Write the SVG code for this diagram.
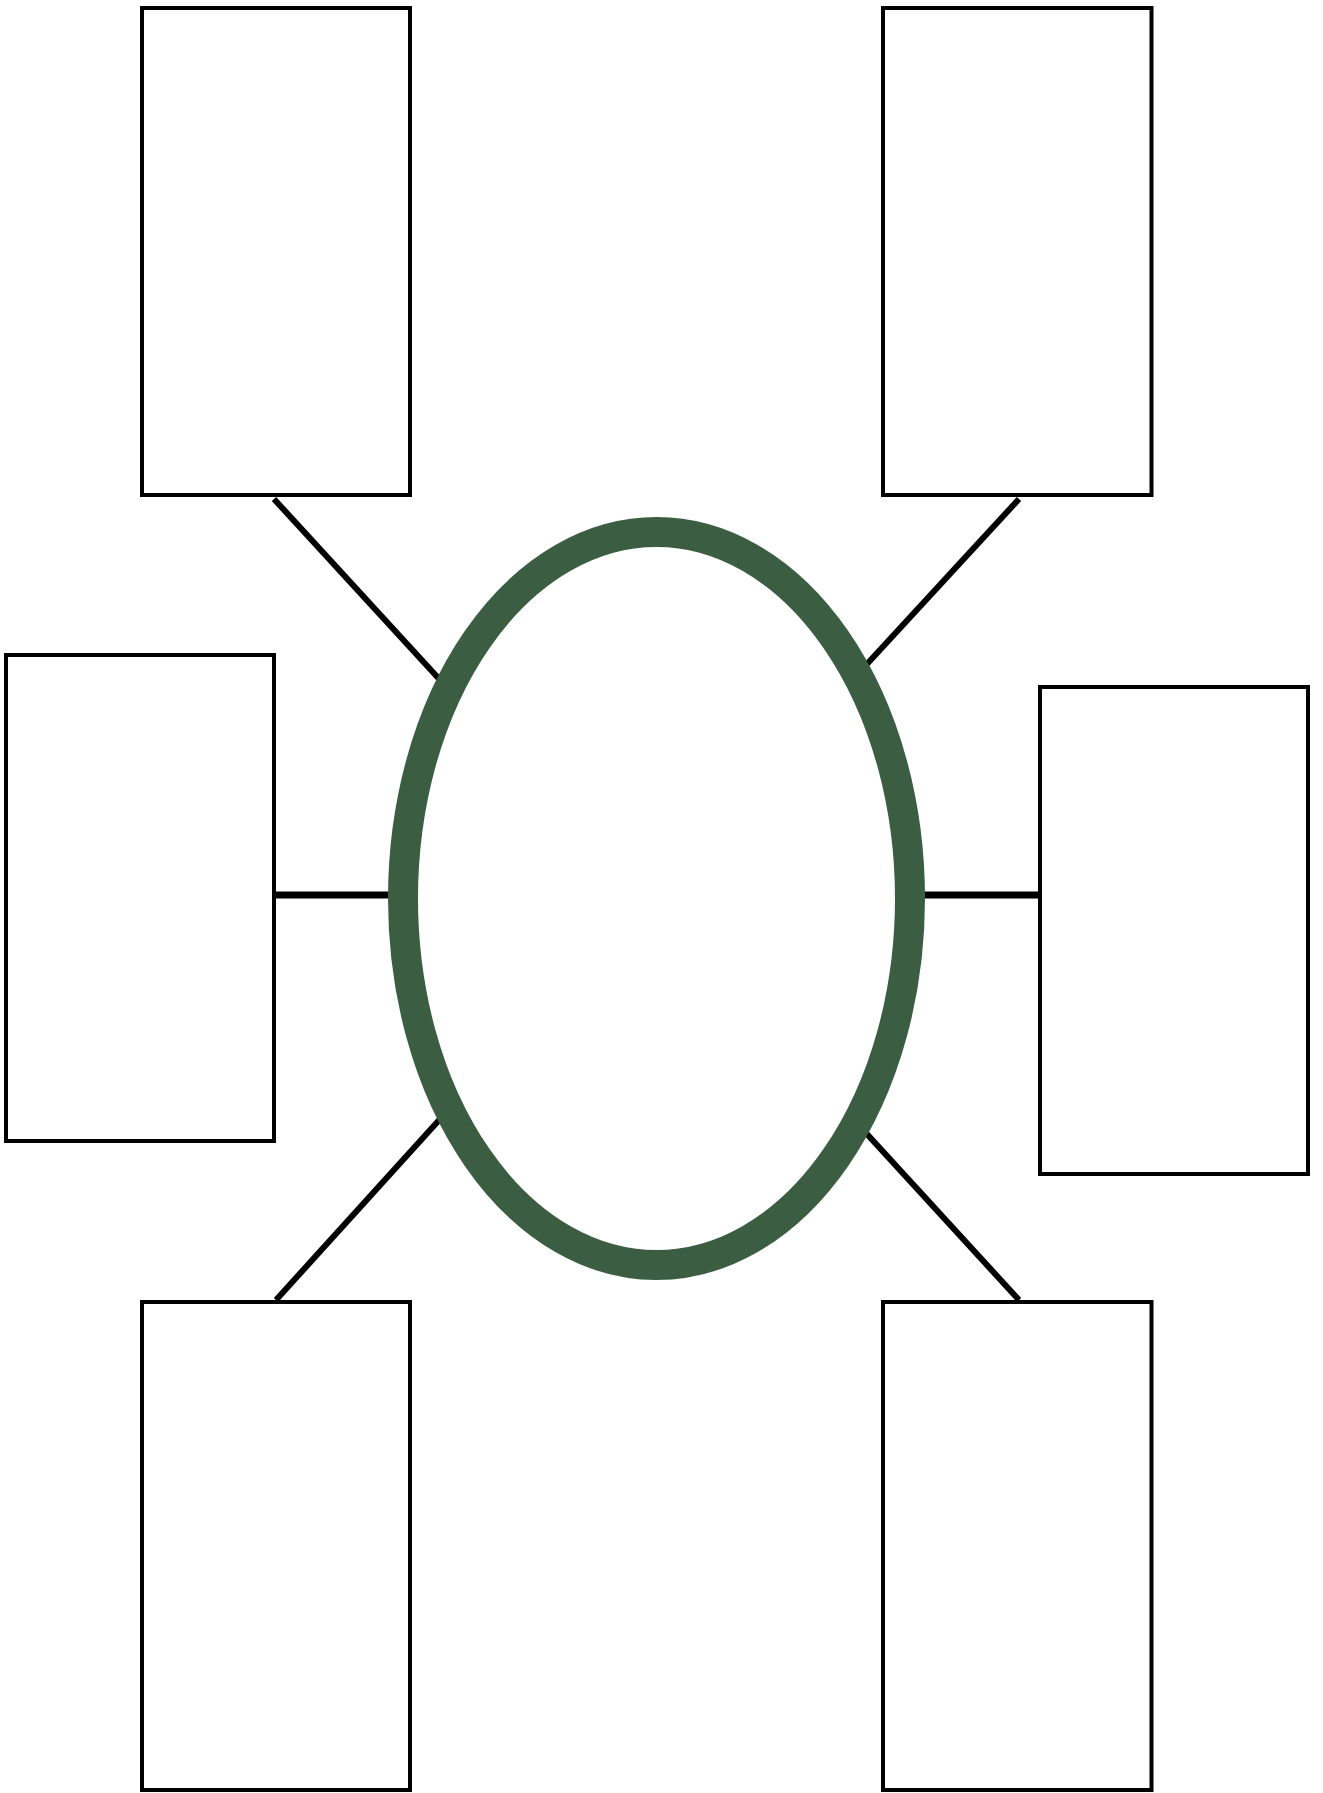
<svg xmlns="http://www.w3.org/2000/svg" width="1323" height="1793" viewBox="0 0 1323 1793">
<style>
.box{fill:#fff;stroke:#000;stroke-width:4}
.conn{stroke:#000;stroke-width:6;fill:none}
.hconn{stroke:#000;stroke-width:7;fill:none}
.hub{fill:#fff;stroke:#3b5d41;stroke-width:30}
</style>
<rect width="1323" height="1793" fill="#fff"/>
<g id="connectors">
<line class="conn" x1="274" y1="499" x2="441" y2="681"/>
<line class="conn" x1="1019" y1="499" x2="867" y2="664"/>
<line class="hconn" x1="274" y1="895" x2="392" y2="895"/>
<line class="hconn" x1="922" y1="895" x2="1040" y2="895"/>
<line class="conn" x1="441" y1="1118" x2="276" y2="1300"/>
<line class="conn" x1="866" y1="1133" x2="1019" y2="1300"/>
</g>
<g id="hub"><ellipse class="hub" cx="656.5" cy="898.5" rx="253.5" ry="366.5"/></g>
<g id="box-top-left"><rect class="box" x="142" y="8" width="268" height="487"/></g>
<g id="box-top-right"><rect class="box" x="883" y="8" width="268.5" height="487"/></g>
<g id="box-mid-left"><rect class="box" x="6" y="655" width="268" height="486"/></g>
<g id="box-mid-right"><rect class="box" x="1040" y="687" width="268" height="487"/></g>
<g id="box-bottom-left"><rect class="box" x="142" y="1302" width="268" height="488"/></g>
<g id="box-bottom-right"><rect class="box" x="883" y="1302" width="268.5" height="488"/></g>
</svg>
